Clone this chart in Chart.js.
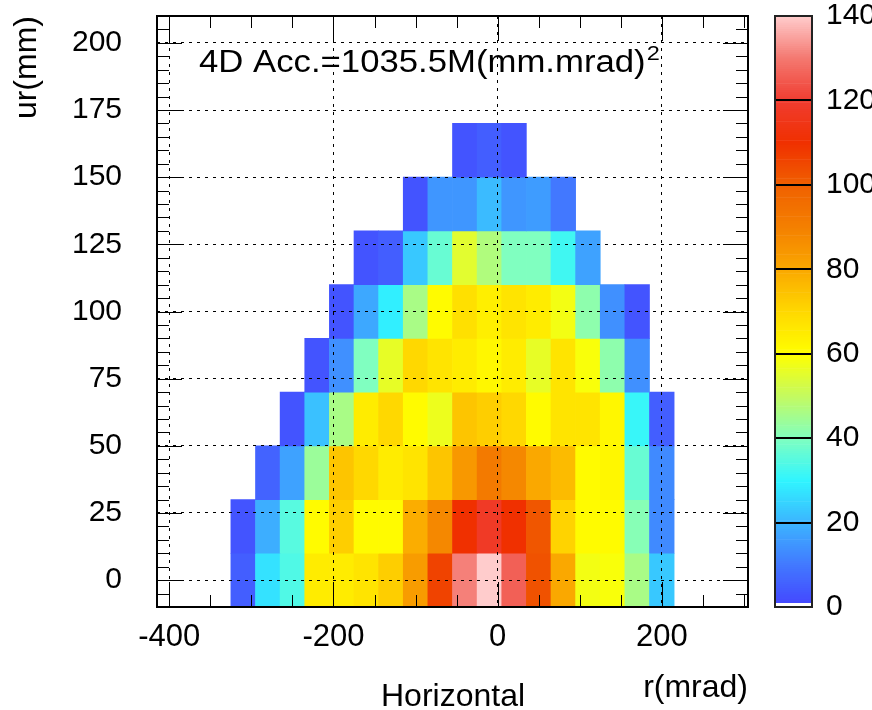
<!DOCTYPE html>
<html>
<head>
<meta charset="utf-8">
<script src="https://cdn.jsdelivr.net/npm/chart.js@4.4.1/dist/chart.umd.min.js"></script>
<style>
  html, body { margin: 0; padding: 0; background: #fff; }
  #wrap { position: relative; width: 872px; height: 710px; overflow: hidden; }
  #main { position: absolute; left: 0; top: 0; }
  #zbar { position: absolute; left: 760px; top: 0; }
</style>
</head>
<body>
<div id="wrap">
  <canvas id="main" width="760" height="710"></canvas>
  <canvas id="zbar" width="112" height="710"></canvas>
</div>
<script>
// bin centres (mrad / mm), 30 x 20 bins
const xBins = [-400, -370, -340, -310, -280, -250, -220, -190, -160, -130, -100, -70,
               -40, -10, 20, 50, 80, 110, 140, 170, 200, 230, 260, 290];
const yBins = [0, 20, 40, 60, 80, 100, 120, 140, 160];
const BIN_W = 30, BIN_H = 20;

// counts per row, one entry per xBins column
const row0   = [0, 0, 0, 5, 27, 34, 65, 65, 67, 72, 83, 106, 131, 140, 126, 103, 80, 58, 59, 46, 23, 0, 0, 0];
const row20  = [0, 0, 0, 3, 19, 35, 61, 72, 61, 61, 79, 88, 110, 118, 110, 102, 71, 61, 61, 41, 13, 0, 0, 0];
const row40  = [0, 0, 0, 0, 6, 17, 44, 74, 70, 65, 67, 74, 84, 92, 88, 80, 76, 61, 62, 37, 13, 0, 0, 0];
const row60  = [0, 0, 0, 0, 0, 3, 22, 46, 65, 70, 61, 57, 74, 72, 70, 61, 67, 67, 62, 31, 5, 0, 0, 0];
const row80  = [0, 0, 0, 0, 0, 0, 3, 14, 40, 56, 70, 67, 65, 62, 65, 56, 67, 59, 42, 14, 0, 0, 0, 0];
const row100 = [0, 0, 0, 0, 0, 0, 0, 3, 18, 29, 46, 61, 68, 64, 67, 65, 58, 42, 14, 3, 0, 0, 0, 0];
const row120 = [0, 0, 0, 0, 0, 0, 0, 0, 3, 5, 23, 37, 55, 47, 40, 40, 32, 17, 0, 0, 0, 0, 0, 0];
const row140 = [0, 0, 0, 0, 0, 0, 0, 0, 0, 0, 3, 15, 15, 21, 15, 16, 10, 0, 0, 0, 0, 0, 0, 0];
const row160 = [0, 0, 0, 0, 0, 0, 0, 0, 0, 0, 0, 0, 3, 5, 3, 0, 0, 0, 0, 0, 0, 0, 0, 0];
const counts = [row0, row20, row40, row60, row80, row100, row120, row140, row160];

const xTicks = [-400, -200, 0, 200];
const yTicks = [0, 25, 50, 75, 100, 125, 150, 175, 200];
const zTicks = [0, 20, 40, 60, 80, 100, 120, 140];

// palette (rainbow-ish, like the ROOT one)
const zStops  = [0, 10, 20, 30, 40, 50, 60, 70, 80, 90, 100, 110, 120, 130, 140];
const zColors = [[68, 68, 255], [66, 120, 255], [60, 180, 255], [48, 245, 255], [128, 255, 192],
                 [196, 250, 96], [255, 255, 0], [255, 216, 0], [250, 168, 0], [244, 128, 0],
                 [240, 96, 0], [240, 48, 0], [240, 60, 48], [244, 120, 112], [255, 204, 204]];

function zColor(v) {
  if (v <= zStops[0]) return `rgb(${zColors[0].join(",")})`;
  for (let i = 1; i < zStops.length; i++) {
    if (v <= zStops[i]) {
      const t = (v - zStops[i - 1]) / (zStops[i] - zStops[i - 1]);
      const a = zColors[i - 1], b = zColors[i];
      return `rgb(${a.map((c, j) => Math.round(c + (b[j] - c) * t)).join(",")})`;
    }
  }
  return `rgb(${zColors[zColors.length - 1].join(",")})`;
}

const FONT = '"Liberation Sans", Arial, Helvetica, sans-serif';
Chart.defaults.font.family = FONT;
Chart.defaults.color = "#000";

const cells = [];
yBins.forEach((yc, j) => {
  counts[j].forEach((n, k) => {
    if (n > 0) cells.push({ x: xBins[k], y: [yc - BIN_H / 2, yc + BIN_H / 2], n });
  });
});

// no extra room for half labels, the box is fixed
const noPad = s => { s.paddingTop = 0; s.paddingBottom = 0; s.paddingLeft = 0; s.paddingRight = 0; };

// ROOT style frame: inward ticks on all four sides + free texts
const rootFrame = {
  id: "rootFrame",
  afterDraw(chart) {
    const { ctx, chartArea: a, scales: { x, y } } = chart;
    ctx.save();
    ctx.strokeStyle = "#000";
    ctx.lineWidth = 1;
    ctx.beginPath();
    for (let v = -400; v <= 300; v += 50) {
      const px = Math.round(x.getPixelForValue(v)) + 0.5;
      const len = xTicks.includes(v) ? 25 : 12;
      ctx.moveTo(px, a.bottom); ctx.lineTo(px, a.bottom - len);
      ctx.moveTo(px, a.top); ctx.lineTo(px, a.top + len);
    }
    for (let v = -10; v <= 210; v += 5) {
      const py = Math.round(y.getPixelForValue(v)) + 0.5;
      const len = yTicks.includes(v) ? 25 : 12;
      ctx.moveTo(a.left, py); ctx.lineTo(a.left + len, py);
      ctx.moveTo(a.right, py); ctx.lineTo(a.right - len, py);
    }
    ctx.stroke();
    ctx.lineWidth = 2;
    ctx.strokeRect(a.left, a.top, a.right - a.left, a.bottom - a.top);

    ctx.fillStyle = "#000";
    ctx.textBaseline = "alphabetic";
    ctx.textAlign = "left";
    ctx.font = `32px ${FONT}`;
    ctx.fillText("Horizontal", 381, 706);

    // annotation, wide Helvetica look
    const label = "4D Acc.=1035.5M(mm.mrad)";
    ctx.save();
    ctx.translate(199, 72);
    ctx.scale(1.12, 1);
    ctx.font = `31px ${FONT}`;
    ctx.fillText(label, 0, 0);
    const w = ctx.measureText(label).width;
    ctx.font = `21px ${FONT}`;
    ctx.fillText("2", w + 1, -12);
    ctx.restore();
    ctx.restore();
  }
};

new Chart(document.getElementById("main"), {
  type: "bar",
  data: {
    datasets: [{
      data: cells,
      backgroundColor: c => (c.raw ? zColor(c.raw.n) : "#fff"),
      borderWidth: 0,
      barPercentage: 1,
      categoryPercentage: 1
    }]
  },
  options: {
    responsive: false,
    animation: false,
    layout: { padding: { top: 16, right: 12, bottom: 0, left: 0 } },
    plugins: { legend: { display: false }, tooltip: { enabled: false } },
    scales: {
      x: {
        type: "linear",
        min: -415,
        max: 305,
        offset: false,
        afterBuildTicks: s => { s.ticks = xTicks.map(v => ({ value: v })); },
        afterFit: s => { s.height = 103; noPad(s); },
        ticks: { autoSkip: false, maxRotation: 0, padding: 12, font: { size: 31 }, callback: v => String(v) },
        grid: { offset: false, color: "#000", lineWidth: 1, drawTicks: false, z: 1 },
        border: { display: false, dash: [3, 5] },
        title: { display: true, text: "r(mrad)", align: "end", font: { size: 32, lineHeight: 1 }, padding: { top: 0, bottom: 6 } }
      },
      y: {
        type: "linear",
        min: -10,
        max: 210,
        afterBuildTicks: s => { s.ticks = yTicks.map(v => ({ value: v })); },
        afterFit: s => { s.width = 157; noPad(s); },
        ticks: { autoSkip: false, padding: 35, font: { size: 30 }, callback: v => String(v) },
        grid: { color: "#000", lineWidth: 1, drawTicks: false, z: 1 },
        border: { display: false, dash: [3, 5] },
        title: { display: true, text: "ur(mm)", align: "end", font: { size: 32, lineHeight: 1 }, padding: { top: 11, bottom: 0 } }
      }
    }
  },
  plugins: [rootFrame]
});

// colour scale
const zSteps = [];
for (let v = 0; v < 140; v += 0.5) zSteps.push(v);

const zFrame = {
  id: "zFrame",
  afterDraw(chart) {
    const { ctx, chartArea: a } = chart;
    ctx.save();
    ctx.strokeStyle = "#222";
    ctx.lineWidth = 2;
    ctx.strokeRect(a.left, a.top, a.right - a.left, a.bottom - a.top);
    ctx.restore();
  }
};

new Chart(document.getElementById("zbar"), {
  type: "bar",
  data: {
    labels: ["z"],
    datasets: [{
      data: zSteps.map(v => ({ x: "z", y: [v, v + 0.5] })),
      backgroundColor: c => {
        const v = c.raw ? c.raw.y[0] : 0;
        return v < 1 ? "#fff" : zColor(v + 0.25);
      },
      borderWidth: 0,
      barPercentage: 1,
      categoryPercentage: 1
    }]
  },
  options: {
    responsive: false,
    animation: false,
    layout: { padding: { top: 16, right: 0, bottom: 103, left: 15 } },
    plugins: { legend: { display: false }, tooltip: { enabled: false } },
    scales: {
      x: { display: false },
      y: {
        position: "right",
        min: 0,
        max: 140,
        afterBuildTicks: s => { s.ticks = zTicks.map(v => ({ value: v })); },
        afterFit: s => { s.width = 60; noPad(s); },
        ticks: { autoSkip: false, padding: 14, font: { size: 30 }, callback: v => String(v) },
        grid: { color: "#000", lineWidth: 2, drawTicks: false, z: 1 },
        border: { display: false }
      }
    }
  },
  plugins: [zFrame]
});
</script>
</body>
</html>
